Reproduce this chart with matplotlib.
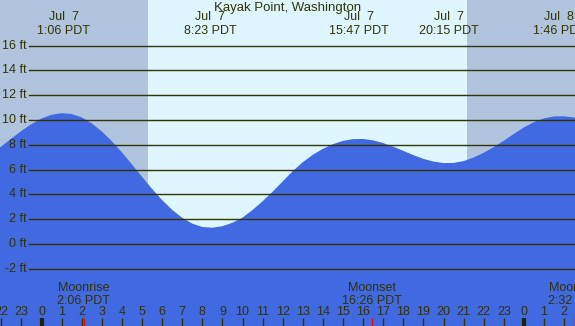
import numpy as np
import matplotlib
matplotlib.use("Agg")
import matplotlib.pyplot as plt
import matplotlib.transforms as mtransforms

plt.rcParams['font.family'] = ['Liberation Sans', 'DejaVu Sans']

# tide height (ft) every half hour, hours since Jul 7 00:00
hours = np.arange(-2.5, 27.01, 0.5)
height_ft = [7.29, 7.87, 8.50, 9.12, 9.67, 10.12, 10.42, 10.55, 10.48, 10.21,
             9.73, 9.08, 8.29, 7.39, 6.42, 5.42, 4.45, 3.55, 2.76, 2.12,
             1.65, 1.38, 1.32, 1.44, 1.72, 2.13, 2.75, 3.45, 4.22, 5.05,
             5.88, 6.60, 7.20, 7.68, 8.05, 8.32, 8.46, 8.47, 8.36, 8.14,
             7.85, 7.51, 7.17, 6.87, 6.65, 6.53, 6.54, 6.69, 6.98, 7.36,
             7.82, 8.33, 8.88, 9.40, 9.83, 10.13, 10.29, 10.30, 10.20, 10.05]

# high / low tide labels
extreme_hours = [1.1, 8.383, 15.783, 20.25, 25.767]
extreme_labels = ["Jul  7\n1:06 PDT", "Jul  7\n8:23 PDT", "Jul  7\n15:47 PDT",
                  "Jul  7\n20:15 PDT", "Jul  8\n1:46 PDT"]

# moon events
moon_hours = [2.1, 16.433, 26.533]
moon_labels = ["Moonrise\n2:06 PDT", "Moonset\n16:26 PDT", "Moonrise\n2:32 PDT"]

sunrise = 5.3
sunset = 21.17

ft_levels = [-2, 0, 2, 4, 6, 8, 10, 12, 14, 16]
hour_ticks = list(range(-2, 27))

x_lo, x_hi = -2.065, 26.542
y_lo, y_hi = -6.60, 19.67

night = '#b0c4de'
day = '#ddf6ff'
water = '#4169e1'
ink = '#333300'

fig = plt.figure(figsize=(5.75, 3.26), dpi=100)
ax = fig.add_axes([0, 0, 1, 1])
ax.set_xlim(x_lo, x_hi)
ax.set_ylim(y_lo, y_hi)
ax.axis('off')

ax.axvspan(x_lo, x_hi, color=day, lw=0, zorder=0)
ax.axvspan(x_lo, sunrise, color=night, lw=0, zorder=0.5)
ax.axvspan(sunset, x_hi, color=night, lw=0, zorder=0.5)

ax.fill_between(hours, height_ft, y_lo, color=water, lw=0, zorder=1)

ylab = mtransforms.blended_transform_factory(ax.transAxes, ax.transData)
for lv in ft_levels:
    ax.axhline(lv, xmin=29 / 575, xmax=1, color=ink, lw=1, zorder=2)
    ax.text(27 / 575, lv, f"{lv} ft", transform=ylab, ha='right', va='center',
            fontsize=9, color=ink, zorder=3)

xlab = mtransforms.blended_transform_factory(ax.transData, ax.transAxes)
ax.text(0.5, 1 - 8 / 326, "Kayak Point, Washington", transform=ax.transAxes,
        ha='center', va='center', fontsize=9.5, color=ink)
for h, lab in zip(extreme_hours, extreme_labels):
    ax.text(h, 1 - 24 / 326, lab, transform=xlab, ha='center', va='center',
            fontsize=9, color=ink, linespacing=1.2)

for h, lab in zip(moon_hours, moon_labels):
    ax.text(h, 1 - 294.5 / 326, lab, transform=xlab, ha='center', va='center',
            fontsize=9, color=ink, linespacing=1.2)

for h in hour_ticks:
    ax.text(h, 1 - 312 / 326, str(h % 24), transform=xlab, ha='center',
            va='center', fontsize=9, color=ink)
    if h % 24 == 0:
        ax.vlines(h, 0, 8 / 326, transform=xlab, color='#222200', lw=3)
    else:
        ax.vlines(h, 0, 8 / 326, transform=xlab, color=ink, lw=1)
for h in moon_hours:
    ax.vlines(h, 0, 8 / 326, transform=xlab, color='red', lw=1)

fig.savefig('out.png', dpi=100)
